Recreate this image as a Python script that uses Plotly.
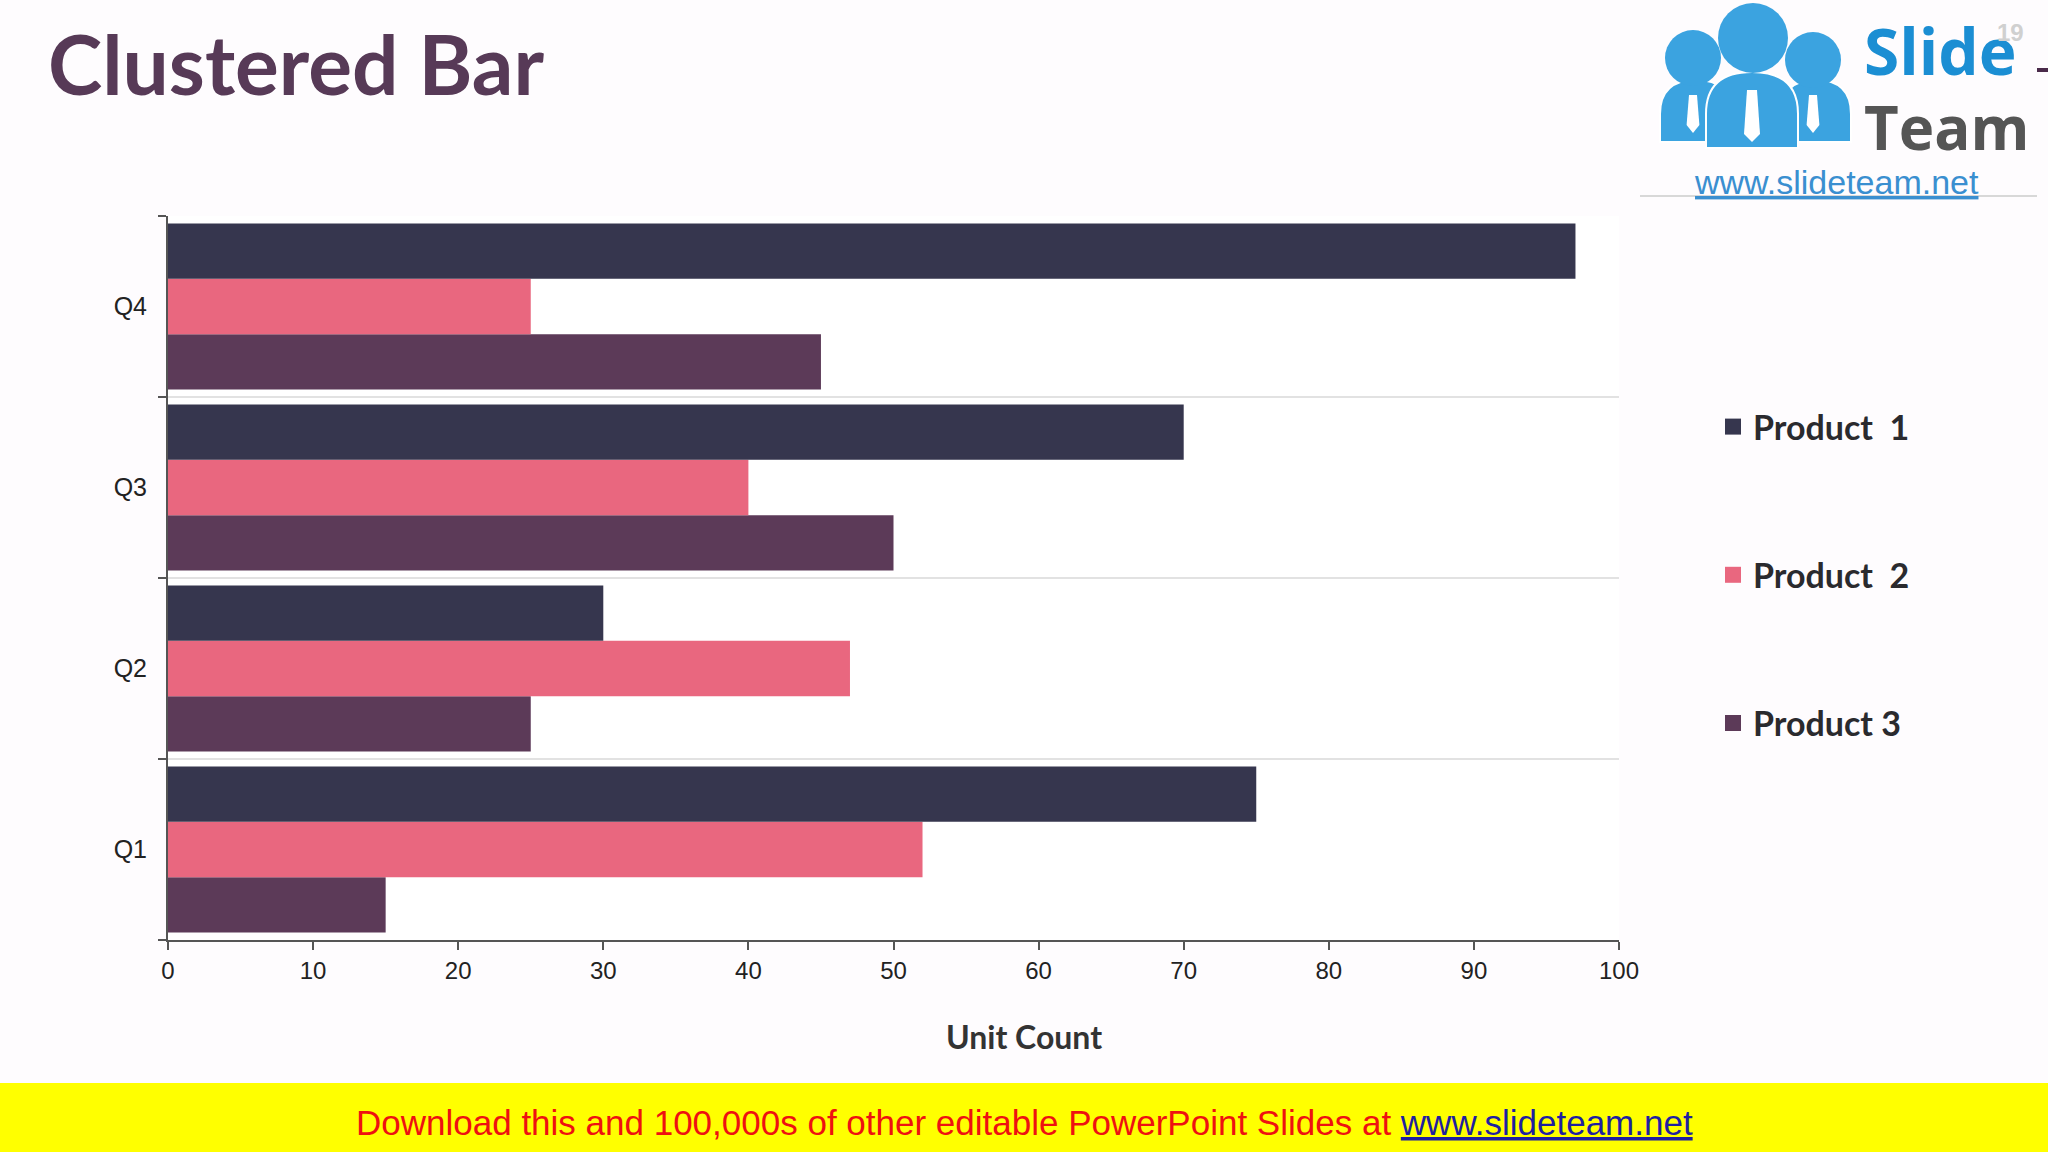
import plotly.graph_objects as go

# ---- data ----
quarters = ["Q1", "Q2", "Q3", "Q4"]
product1 = [75, 30, 70, 97]
product2 = [52, 47, 40, 25]
product3 = [15, 25, 50, 45]
series_names = ["Product  1", "Product  2", "Product 3"]
x_ticks = [0, 10, 20, 30, 40, 50, 60, 70, 80, 90, 100]

colors = {"Product  1": "#36364E", "Product  2": "#E9677F", "Product 3": "#5C3A58"}

W, H = 2048, 1152
L, R, T, B = 168, 1619, 216, 940  # plot area in px


def px(x):
    return (x - L) / (R - L)


def py(y):
    return (B - y) / (B - T)


fig = go.Figure()
# add in reverse so Product 1 is on top within each group
for name, vals in [("Product 3", product3), ("Product  2", product2), ("Product  1", product1)]:
    fig.add_trace(go.Bar(
        y=quarters, x=vals, orientation="h", name=name,
        marker=dict(color=colors[name], line=dict(width=0)),
        showlegend=False, legendgroup=name,
    ))
# legend entries with bigger square markers
for name in series_names:
    fig.add_trace(go.Scatter(
        x=[None], y=[None], mode="markers", name=name, legendgroup=name,
        marker=dict(symbol="square", size=18, color=colors[name]),
        showlegend=True,
    ))

fig.update_layout(
    width=W, height=H,
    margin=dict(l=L, r=W - R, t=T, b=H - B),
    paper_bgcolor="#FEFCFE",
    plot_bgcolor="#FFFFFF",
    barmode="group",
    bargap=0.083,
    bargroupgap=0,
    showlegend=True,
    legend=dict(
        xref="container", yref="container",
        x=1713 / W, xanchor="left",
        y=1 - 398 / H, yanchor="top",
        font=dict(family="Lato", size=34, color="#2A2A2E", weight="bold"),
        tracegroupgap=101,
        bgcolor="rgba(0,0,0,0)",
        itemwidth=30,
    ),
    title=dict(
        text="<b>Clustered Bar</b>",
        xref="container", yref="container",
        x=48 / W, xanchor="left",
        y=1 - 66 / H, yanchor="middle",
        font=dict(family="Lato", size=82, color="#573A57"),
    ),
    font=dict(family="Liberation Sans"),
)

fig.update_xaxes(
    range=[0, 100], tickvals=x_ticks, ticktext=[str(v) for v in x_ticks],
    showgrid=False, zeroline=False,
    showline=True, linecolor="#555555", linewidth=2,
    ticks="outside", ticklen=8, tickcolor="#555555", tickwidth=2,
    tickfont=dict(family="Liberation Sans", size=24, color="#222222"),
    ticklabelstandoff=0,
)
fig.update_yaxes(
    categoryorder="array", categoryarray=quarters,
    tickson="boundaries",
    showgrid=True, gridcolor="#E2E2E2", gridwidth=2,
    zeroline=False,
    showline=True, linecolor="#555555", linewidth=2,
    ticks="outside", ticklen=8, tickcolor="#555555", tickwidth=2,
    tickfont=dict(family="Liberation Sans", size=25, color="#222222"),
    ticklabelstandoff=14,
)

annotations = []
shapes = []

# axis title
annotations.append(dict(
    text="<b>Unit Count</b>", xref="paper", yref="paper",
    x=px(1024), y=py(1036), xanchor="center", yanchor="middle",
    showarrow=False, font=dict(family="Lato", size=32, color="#333333"),
))

# yellow banner
shapes.append(dict(type="rect", xref="paper", yref="paper",
                   x0=px(0), x1=px(W), y0=py(1083), y1=py(H + 2),
                   fillcolor="#FFFF00", line=dict(width=0), layer="above"))
annotations.append(dict(
    text="Download this and 100,000s of other editable PowerPoint Slides at "
         "<span style='color:#1F1FA0'><u>www.slideteam.net</u></span>",
    xref="paper", yref="paper", x=px(1024), y=py(1122),
    xanchor="center", yanchor="middle", showarrow=False,
    font=dict(family="Liberation Sans", size=35, color="#EE1111"),
))

# logo: people
blue = "#3BA3E0"
def circle(cx, cy, r):
    return dict(type="circle", xref="paper", yref="paper",
                x0=px(cx - r), x1=px(cx + r), y0=py(cy + r), y1=py(cy - r),
                fillcolor=blue, line=dict(width=0), layer="above")

def body(x0, x1, yt, yb):
    xc = (x0 + x1) / 2
    ym = yt + (yb - yt) * 0.55
    p = (f"M {px(x0)},{py(yb)} L {px(x0)},{py(ym)} "
         f"Q {px(x0)},{py(yt)} {px(xc)},{py(yt)} "
         f"Q {px(x1)},{py(yt)} {px(x1)},{py(ym)} "
         f"L {px(x1)},{py(yb)} Z")
    return dict(type="path", xref="paper", yref="paper", path=p,
                fillcolor=blue, line=dict(color="#FFFFFF", width=2), layer="above")

def tie(xc, yt, yb, w):
    p = (f"M {px(xc - w/2)},{py(yt)} L {px(xc + w/2)},{py(yt)} "
         f"L {px(xc + w*0.8)},{py(yb - 8)} L {px(xc)},{py(yb)} "
         f"L {px(xc - w*0.8)},{py(yb - 8)} Z")
    return dict(type="path", xref="paper", yref="paper", path=p,
                fillcolor="#FFFFFF", line=dict(width=0), layer="above")

shapes += [body(1660, 1732, 80, 142), body(1781, 1851, 80, 142),
           body(1706, 1798, 72, 148),
           circle(1693, 58, 28), circle(1813, 60, 28), circle(1753, 38, 35),
           tie(1693, 95, 133, 8), tie(1813, 95, 133, 8), tie(1752, 90, 142, 10)]

annotations += [
    dict(text="<b>Slide</b>", xref="paper", yref="paper", x=px(1862), y=py(50),
         xanchor="left", yanchor="middle", showarrow=False,
         font=dict(family="Open Sans", size=64, color="#1B8ED3")),
    dict(text="<b>Team</b>", xref="paper", yref="paper", x=px(1862), y=py(127),
         xanchor="left", yanchor="middle", showarrow=False,
         font=dict(family="Open Sans", size=60, color="#555555")),
    dict(text="<u>www.slideteam.net</u>", xref="paper", yref="paper", x=px(1836), y=py(182),
         xanchor="center", yanchor="middle", showarrow=False,
         font=dict(family="Liberation Sans", size=34, color="#3A8FD0")),
    dict(text="<b>19</b>", xref="paper", yref="paper", x=px(2010), y=py(32),
         xanchor="center", yanchor="middle", showarrow=False,
         font=dict(family="Liberation Sans", size=24, color="#D0D0D0")),
]
shapes += [
    dict(type="line", xref="paper", yref="paper", x0=px(1640), x1=px(2037),
         y0=py(196), y1=py(196), line=dict(color="#D8D8D8", width=2), layer="above"),
    dict(type="line", xref="paper", yref="paper", x0=px(2037), x1=px(2048),
         y0=py(70), y1=py(70), line=dict(color="#4A2A4A", width=4), layer="above"),
]

fig.update_layout(annotations=annotations, shapes=shapes)
fig.write_html(
    "out.html",
    config={"displayModeBar": False},
    post_script="document.body.style.margin='0';document.body.style.padding='0';"
                "document.body.style.overflow='hidden';",
)
